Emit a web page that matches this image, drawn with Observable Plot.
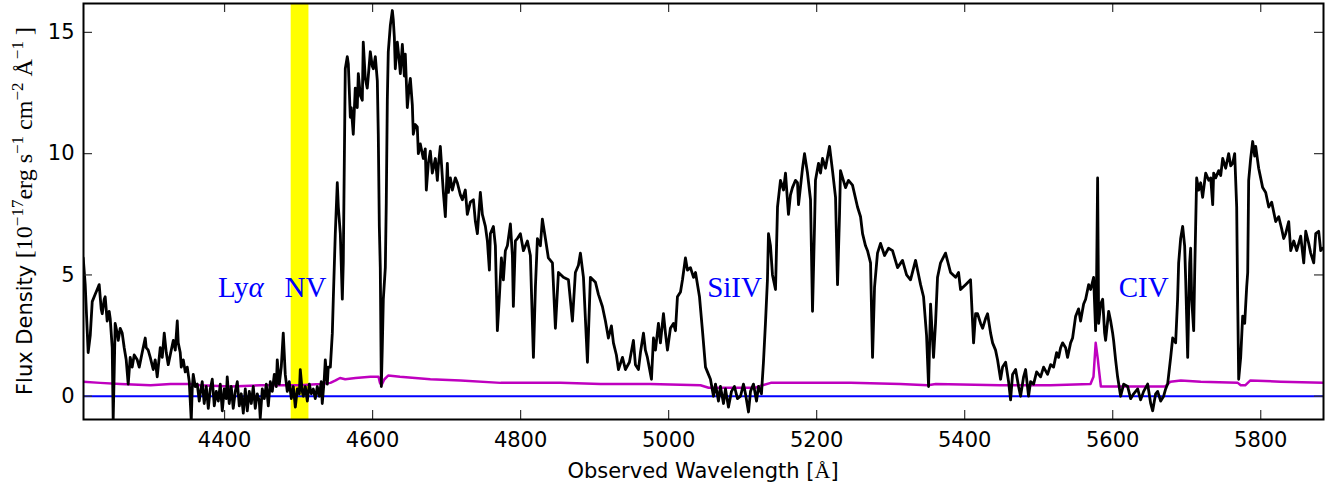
<!DOCTYPE html>
<html><head><meta charset="utf-8">
<script src="https://cdn.jsdelivr.net/npm/d3@7"></script>
<script src="https://cdn.jsdelivr.net/npm/@observablehq/plot@0.6"></script>
<style>body{margin:0;background:#fff}</style>
</head><body>
<div id="chart"></div>
<script>
const wave = [
4209, 4211.7, 4215.7, 4218.5, 4221.2, 4225.2, 4227.9, 4230.6, 4233.3, 4234.7,
4237.4, 4238.7, 4241.4, 4244.1, 4245.5, 4248.2, 4249.5, 4250.9, 4252.2, 4254.9,
4256.3, 4259, 4261.7, 4264.4, 4267.1, 4269.8, 4272.5, 4275.2, 4277.9, 4282,
4284.7, 4288.7, 4292.8, 4294.1, 4296.8, 4299.6, 4303.6, 4306.3, 4309, 4313.1,
4315.8, 4318.5, 4321.2, 4323.9, 4326.6, 4330.7, 4333.4, 4336.1, 4337.4, 4340.1,
4341.5, 4344.2, 4346.9, 4349.6, 4352.3, 4355, 4356.3, 4357.7, 4360.4, 4363.1,
4365.8, 4367.1, 4369.8, 4372.5, 4375.3, 4378, 4380.7, 4383.4, 4386.1, 4388.8,
4391.5, 4394.2, 4396.9, 4399.6, 4402.3, 4403.6, 4406.3, 4409, 4411.7, 4414.5,
4417.2, 4419.9, 4422.6, 4425.3, 4428, 4430.7, 4433.4, 4436.1, 4438.8, 4441.5,
4444.2, 4446.9, 4448.2, 4451, 4453.7, 4456.4, 4459.1, 4461.8, 4464.5, 4467.2,
4469.9, 4471.2, 4473.9, 4476.6, 4479.3, 4482, 4484.7, 4487.4, 4490.2, 4492.9,
4495.6, 4498.3, 4501, 4502.3, 4505, 4506.4, 4509.1, 4511.8, 4514.5, 4517.2,
4519.9, 4522.6, 4525.3, 4528, 4530.6, 4532, 4534.7, 4536.1, 4538.8, 4540.1,
4542.9, 4545.6, 4546.9, 4549.6, 4552.3, 4553.7, 4556.4, 4559.1, 4560.4, 4563.1,
4565.8, 4567.2, 4569.9, 4571.2, 4573.9, 4576.6, 4579.3, 4580.7, 4583.4, 4586.1,
4587.4, 4590.1, 4592.8, 4594.2, 4596.9, 4599.6, 4601, 4603.7, 4606.4, 4607.7,
4609.1, 4610.4, 4611.8, 4613.1, 4614.5, 4617.2, 4618.5, 4619.9, 4621.2, 4624,
4626.7, 4628, 4629.4, 4630.7, 4633.4, 4636.1, 4637.5, 4640.2, 4642.9, 4644.2,
4646.9, 4649.6, 4651, 4653.7, 4655, 4657.7, 4660.4, 4661.8, 4664.5, 4668.5,
4671.2, 4672.6, 4675.3, 4678, 4680.7, 4682.1, 4684.8, 4687.5, 4688.8, 4691.5,
4695.6, 4698.3, 4701, 4702.4, 4705.1, 4707.8, 4711.8, 4714.5, 4718.6, 4721.3,
4725.3, 4728, 4732.1, 4736.2, 4738.9, 4741.6, 4745.6, 4748.3, 4752.4, 4755.1,
4757.8, 4759.1, 4763.2, 4765.9, 4768.6, 4771.3, 4774, 4776.7, 4779.4, 4782.1,
4786.2, 4788.9, 4790.2, 4792.9, 4795.6, 4799.7, 4803.8, 4809.2, 4813.2, 4817.3,
4820, 4822.7, 4826.7, 4829.4, 4833.5, 4837.5, 4843, 4847, 4851.1, 4857.8,
4864.6, 4870, 4874, 4878.1, 4880.8, 4884.9, 4890.3, 4894.3, 4901.1, 4905.1,
4910.5, 4914.6, 4918.6, 4922.7, 4925.4, 4929.4, 4932.2, 4937.6, 4941.6, 4947,
4952.4, 4955.1, 4959.2, 4961.9, 4966, 4968.6, 4971.3, 4976.8, 4979.5, 4982.2,
4986.2, 4988.9, 4993, 4995.7, 4998.4, 5002.4, 5006.5, 5009.2, 5011.9, 5016,
5018.7, 5022.7, 5025.4, 5029.5, 5033.6, 5036.3, 5041.7, 5045.7, 5049.8, 5053.8,
5056.5, 5060.6, 5063.3, 5067.3, 5070, 5074.1, 5076.8, 5080.8, 5084.9, 5088.9,
5093, 5097.1, 5101.1, 5103.8, 5107.9, 5110.6, 5114.6, 5118.7, 5121.4, 5125.4,
5128.1, 5130.8, 5133.5, 5134.9, 5137.6, 5140.3, 5144.4, 5147.1, 5151.1, 5155.2,
5157.9, 5161.9, 5164.6, 5167.3, 5171.4, 5174.1, 5175.5, 5180.9, 5183.6, 5187.6,
5191.7, 5194.4, 5197.1, 5198.4, 5202.5, 5205.2, 5207.9, 5211.9, 5217.4, 5221.4,
5225.5, 5228.2, 5230.9, 5232.2, 5239, 5243, 5248.4, 5255.2, 5259.3, 5262,
5266, 5268.7, 5272.8, 5275.5, 5278.2, 5282.2, 5286.3, 5291.7, 5297.1, 5302.5,
5309.3, 5316, 5321.5, 5326.8, 5333.6, 5337.7, 5340.4, 5344.4, 5348.5, 5351.2,
5353.9, 5357.9, 5360.6, 5363.3, 5367.4, 5374.1, 5380.9, 5387.7, 5391.7, 5394.4,
5401.2, 5407.9, 5412, 5414.7, 5417.4, 5421.5, 5424.2, 5428.2, 5430.9, 5435,
5437.7, 5441.7, 5444.4, 5448.5, 5451.2, 5455.3, 5459.3, 5462, 5464.7, 5468.8,
5472.8, 5475.5, 5479.6, 5482.3, 5486.3, 5489, 5493.1, 5497.2, 5502.6, 5506.6,
5512, 5516.1, 5520.1, 5524.2, 5526.9, 5529.6, 5532.3, 5536.4, 5539, 5543.1,
5545.8, 5549.9, 5553.9, 5556.6, 5560.7, 5563.4, 5567.5, 5570.2, 5574.2, 5576.9,
5578.3, 5579.6, 5581, 5583.7, 5586.4, 5589.1, 5590.4, 5594.5, 5597.2, 5599.9,
5601.2, 5603.9, 5606.6, 5610.7, 5614.8, 5620.2, 5624.2, 5628.3, 5633.7, 5637.7,
5641.8, 5647.2, 5651.3, 5654, 5658, 5660.7, 5664.8, 5668.8, 5671.5, 5674.2,
5678.3, 5681, 5685, 5687.7, 5689.1, 5691.8, 5694.5, 5697.2, 5698.6, 5701.3,
5704, 5705.3, 5706.7, 5709.4, 5710.7, 5713.4, 5716.1, 5718.8, 5721.5, 5725.6,
5729.7, 5732.4, 5735.1, 5736.4, 5739.1, 5743.2, 5745.9, 5748.6, 5752.6, 5756.7,
5759.4, 5762.1, 5764.8, 5767.5, 5768.8, 5770.2, 5772.9, 5775.6, 5778.3, 5781,
5782.4, 5783.7, 5786.4, 5789.1, 5791.8, 5793.2, 5797.2, 5799.9, 5802.6, 5806.7,
5810.8, 5814.8, 5820.2, 5824.3, 5828.3, 5831, 5833.7, 5837.8, 5840.5, 5844.6,
5848.6, 5854, 5858.1, 5860.8, 5864.8, 5867.5, 5871.6, 5874.3, 5878.3, 5881,
5883.7
];
const flux = [
5.7, 4.6, 1.8, 2.5, 3.9, 4.2, 4.4, 4.6, 3.6, 3.4,
4.0, 4.1, 3.1, 3.5, 3.2, 2.0, -1.0, 1.0, 3.0, 2.6,
2.3, 2.8, 2.6, 2.0, 1.5, 0.5, 1.6, 1.2, 1.7, 1.5,
1.2, 1.8, 2.4, 2.0, 1.9, 1.6, 1.1, 1.5, 0.8, 2.0,
1.6, 2.6, 1.8, 1.3, 1.7, 2.3, 1.9, 3.1, 2.2, 1.8,
1.2, 1.5, 1.0, 1.2, 0.6, -1.0, 0.3, 0.9, 0.4, 0.5,
-0.2, 0.1, 0.6, -0.3, 0.4, -0.5, 0.3, 0.7, -0.4, 0.2,
-0.2, 0.5, -0.6, 0.3, -0.1, 0.8, -0.3, 0.4, -0.5, 0.2,
0.6, -0.4, 0.1, -0.7, 0.3, -0.6, 0.2, -0.3, 0.4, -0.5,
0.1, -0.2, -0.9, 0.3, -0.1, 0.5, -0.4, 0.6, 0.2, 0.9,
0.4, 1.5, 0.5, 1.2, 2.6, 0.9, 0.2, 0.6, -0.1, 0.4,
-0.45, 0.3, 0.1, 1.1, 0.2, 0.0, 0.4, -0.2, 0.5, 0.1,
0.3, -0.1, 0.4, 0.0, 0.6, -0.3, 0.7, 1.5, 0.5, 1.2,
1.2, 2.6, 4.0, 6.7, 8.8, 7.8, 6.7, 4.0, 5.5, 13.5,
14.0, 13.7, 11.5, 11.9, 10.8, 12.7, 11.9, 13.3, 12.4, 12.2,
14.6, 13.1, 12.7, 13.2, 14.2, 13.6, 13.5, 14.0, 13.0, 10.8,
7.0, 5.3, 0.4, 2.0, 4.0, 5.3, 8.0, 12.2, 14.2, 15.3,
15.9, 15.5, 14.8, 13.5, 14.6, 13.8, 13.3, 14.5, 13.2, 14.1,
11.9, 12.8, 13.1, 12.0, 10.8, 11.2, 11.1, 10.0, 10.4, 9.8,
10.2, 8.5, 9.6, 10.1, 9.2, 9.4, 9.8, 8.9, 9.5, 10.3,
8.4, 7.4, 9.6, 8.4, 9.0, 8.5, 9.0, 8.8, 8.3, 8.1,
8.5, 7.5, 8.0, 8.1, 7.2, 6.7, 8.4, 7.5, 7.0, 6.4,
5.2, 6.7, 7.0, 6.2, 2.7, 4.1, 5.7, 4.8, 6.0, 6.2,
7.1, 5.8, 3.7, 6.4, 6.5, 6.7, 6.0, 6.4, 5.8, 1.6,
4.5, 6.5, 6.2, 7.3, 6.5, 5.7, 5.5, 2.8, 5.1, 4.9,
4.8, 3.1, 5.1, 5.4, 5.9, 4.9, 1.4, 4.9, 4.7, 4.2,
3.7, 3.1, 2.4, 2.9, 2.2, 1.7, 1.1, 1.6, 1.1, 1.4,
2.3, 1.3, 1.1, 1.8, 2.6, 1.9, 1.6, 0.7, 2.4, 1.9,
3.0, 2.2, 3.4, 2.6, 1.9, 2.8, 3.0, 2.7, 4.1, 4.3,
4.8, 5.7, 5.2, 5.3, 4.9, 5.1, 4.1, 2.7, 1.2, 0.9,
0.7, 0.0, 0.5, -0.2, 0.4, -0.3, 0.3, -0.45, 0.2, 0.4,
-0.1, 0.0, 0.5, 0.1, -0.65, 0.2, 0.5, -0.2, 0.4, 0.1,
1.4, 3.0, 4.8, 6.7, 6.2, 5.0, 4.4, 7.8, 8.9, 8.5,
9.2, 7.5, 8.3, 8.6, 8.9, 8.8, 7.9, 9.4, 10.0, 9.2,
8.1, 3.5, 7.0, 8.9, 9.6, 9.2, 9.8, 9.4, 10.3, 9.3,
8.2, 4.6, 7.5, 9.3, 8.6, 8.9, 8.7, 7.8, 7.4, 6.7,
6.2, 6.0, 5.5, 1.6, 4.5, 5.9, 6.3, 5.8, 6.1, 6.0,
5.3, 5.6, 5.0, 4.8, 5.6, 5.0, 4.6, 4.1, 2.5, 0.4,
3.8, 1.6, 3.0, 4.9, 5.5, 5.9, 5.1, 4.9, 5.1, 4.4,
4.6, 4.8, 2.2, 3.4, 3.4, 3.0, 2.8, 3.2, 3.4, 2.6,
2.2, 1.9, 1.5, 0.7, 1.2, 1.4, 0.6, -0.15, 0.9, 1.1,
0.4, 0.0, 0.8, 1.1, 0.0, 0.6, 0.5, 1.0, 0.8, 1.2,
0.9, 1.3, 1.2, 1.8, 1.6, 2.0, 2.2, 2.0, 1.6, 2.2,
2.4, 3.3, 3.6, 3.1, 3.8, 4.0, 4.6, 4.4, 4.9, 2.7,
5.0, 9.0, 3.0, 3.8, 4.0, 2.6, 2.3, 3.5, 3.1, 2.6,
2.3, 1.5, 0.8, 0.0, 0.5, 0.4, -0.1, 0.1, 0.3, -0.15,
0.2, 0.5, -0.3, -0.6, 0.1, 0.2, -0.2, 0.0, 0.3, 0.5,
1.6, 2.4, 2.2, 4.0, 5.5, 6.5, 7.0, 6.2, 4.8, 1.6,
5.5, 6.1, 4.0, 2.7, 5.0, 9.0, 8.5, 8.8, 8.2, 9.2,
8.9, 9.0, 7.9, 9.2, 9.0, 9.3, 9.1, 9.8, 9.4, 10.0,
9.5, 9.6, 10.0, 7.8, 4.1, 0.7, 1.6, 3.3, 3.0, 4.5,
5.1, 8.9, 9.8, 10.5, 9.9, 10.3, 9.4, 9.0, 8.6, 8.4,
7.8, 8.0, 7.2, 7.4, 6.9, 6.5, 6.7, 7.2, 6.0, 6.4,
6.0, 6.6, 5.5, 6.8, 6.3, 5.9, 5.5, 6.7, 6.8, 6.0,
6.1
];
const errWave = [4209, 4232, 4259, 4300, 4327, 4354, 4367, 4408, 4448, 4475, 4502, 4529, 4543, 4550, 4556, 4563, 4577, 4597, 4608, 4610, 4612, 4616, 4621, 4637, 4678, 4719, 4773, 4854, 4908, 4975, 5043, 5054, 5117, 5127, 5138, 5246, 5313, 5350, 5361, 5448, 5516, 5570, 5574, 5577, 5580, 5581, 5584, 5624, 5671, 5678, 5692, 5719, 5769, 5773, 5779, 5786, 5827, 5885];
const errFlux = [0.6, 0.55, 0.5, 0.45, 0.5, 0.5, 0.45, 0.4, 0.45, 0.45, 0.45, 0.5, 0.55, 0.65, 0.75, 0.7, 0.75, 0.8, 0.8, 0.55, 0.45, 0.7, 0.85, 0.8, 0.7, 0.65, 0.55, 0.55, 0.5, 0.5, 0.45, 0.35, 0.35, 0.45, 0.55, 0.55, 0.5, 0.45, 0.5, 0.45, 0.45, 0.5, 0.8, 2.2, 1.5, 1.2, 0.4, 0.4, 0.4, 0.6, 0.65, 0.6, 0.55, 0.45, 0.45, 0.65, 0.6, 0.55];

const xTicks = [4400, 4600, 4800, 5000, 5200, 5400, 5600, 5800];
const yTicks = [0, 5, 10, 15];
const lineNames = ["Lyα", "NV", "SiIV", "CIV"];
const lineNameWave = [4391, 4481, 5052, 5608];
const lineNameFlux = [4.1, 4.1, 4.1, 4.1];
const bandStart = [4490];
const bandEnd = [4514];
const xDomain = [4209.4, 5884.8];
const yDomain = [-0.96, 16.19];

const W = 1335, H = 488, mL = 83, mR = 12, mT = 3, mB = 69;
const innerW = W - mL - mR, innerH = H - mT - mB;
const tickLen = 9;

const spec = wave.map((w, i) => ({w, f: flux[i]}));
const err = errWave.map((w, i) => ({w, f: errFlux[i]}));
const labels = lineNames.map((t, i) => ({t, w: lineNameWave[i], f: lineNameFlux[i]}));
const band = bandStart.map((s, i) => ({x1: s, x2: bandEnd[i]}));

const svg = Plot.plot({
  width: W, height: H,
  marginLeft: mL, marginRight: mR, marginTop: mT, marginBottom: mB,
  style: {fontFamily: "DejaVu Sans", fontSize: "21px", background: "white", color: "black"},
  x: {domain: xDomain, label: null},
  y: {domain: yDomain, label: null},
  marks: [
    Plot.rect(band, {x1: "x1", x2: "x2", fill: "#ffff00"}),
    Plot.ruleY([0], {stroke: "#0000ff", strokeWidth: 2}),
    Plot.line(err, {x: "w", y: "f", stroke: "#bf00bf", strokeWidth: 2.5, clip: true}),
    Plot.line(spec, {x: "w", y: "f", stroke: "black", strokeWidth: 2.8, clip: true, strokeLinejoin: "round"}),
    Plot.text(labels, {x: "w", y: "f", text: "t", textAnchor: "start", lineAnchor: "bottom", fill: "#0000ff", fontSize: 29, fontFamily: "Liberation Serif"}),
    Plot.tickX(xTicks, {x: d => d, insetTop: innerH - tickLen, stroke: "#333", strokeWidth: 1.2}),
    Plot.tickX(xTicks, {x: d => d, insetBottom: innerH - tickLen, stroke: "#333", strokeWidth: 1.2}),
    Plot.tickY(yTicks, {y: d => d, insetRight: innerW - tickLen, stroke: "#333", strokeWidth: 1.2}),
    Plot.tickY(yTicks, {y: d => d, insetLeft: innerW - tickLen, stroke: "#333", strokeWidth: 1.2}),
    Plot.axisX({ticks: xTicks, tickFormat: d => String(d), tickSize: 0, tickPadding: 13, label: null, fontSize: 21}),
    Plot.axisY({ticks: yTicks, tickFormat: d => String(d), tickSize: 0, tickPadding: 9, label: null, fontSize: 21}),
    Plot.frame({stroke: "black", strokeWidth: 2})
  ]
});

const s = d3.select(svg);

// italic alpha in the Lyα label, as in the math-text original
s.selectAll("text").filter(function () { return this.textContent === "Lyα"; }).each(function () {
  const t = d3.select(this);
  t.text(null);
  t.append("tspan").text("Ly");
  t.append("tspan").attr("font-style", "italic").text("α");
});

const xt = s.append("text")
  .attr("x", mL + innerW / 2).attr("y", 478)
  .attr("text-anchor", "middle").attr("font-family", "DejaVu Sans").attr("font-size", 21).attr("fill", "black");
xt.append("tspan").text("Observed Wavelength [");
xt.append("tspan").attr("font-family", "Liberation Serif").attr("font-size", 22).text("Å");
xt.append("tspan").text("]");

const yt = s.append("text")
  .attr("transform", `translate(32,${mT + innerH / 2}) rotate(-90)`)
  .attr("text-anchor", "middle").attr("fill", "black").attr("font-size", 21).attr("font-family", "DejaVu Sans");
const yParts = [
  ["Flux Density ", "DejaVu Sans", 21, 0],
  ["[10", "Liberation Serif", 24, 0],
  ["\u221217", "Liberation Serif", 17, -9],
  ["erg s", "Liberation Serif", 24, 9],
  ["\u22121", "Liberation Serif", 17, -9],
  [" cm", "Liberation Serif", 24, 9],
  ["\u22122", "Liberation Serif", 17, -9],
  [" Å", "Liberation Serif", 24, 9],
  ["\u22121", "Liberation Serif", 17, -9],
  [" ]", "Liberation Serif", 24, 9]
];
for (const [t, f, sz, dy] of yParts) {
  yt.append("tspan").attr("font-family", f).attr("font-size", sz).attr("dy", dy).text(t);
}

document.getElementById("chart").appendChild(svg);
</script>
</body></html>
